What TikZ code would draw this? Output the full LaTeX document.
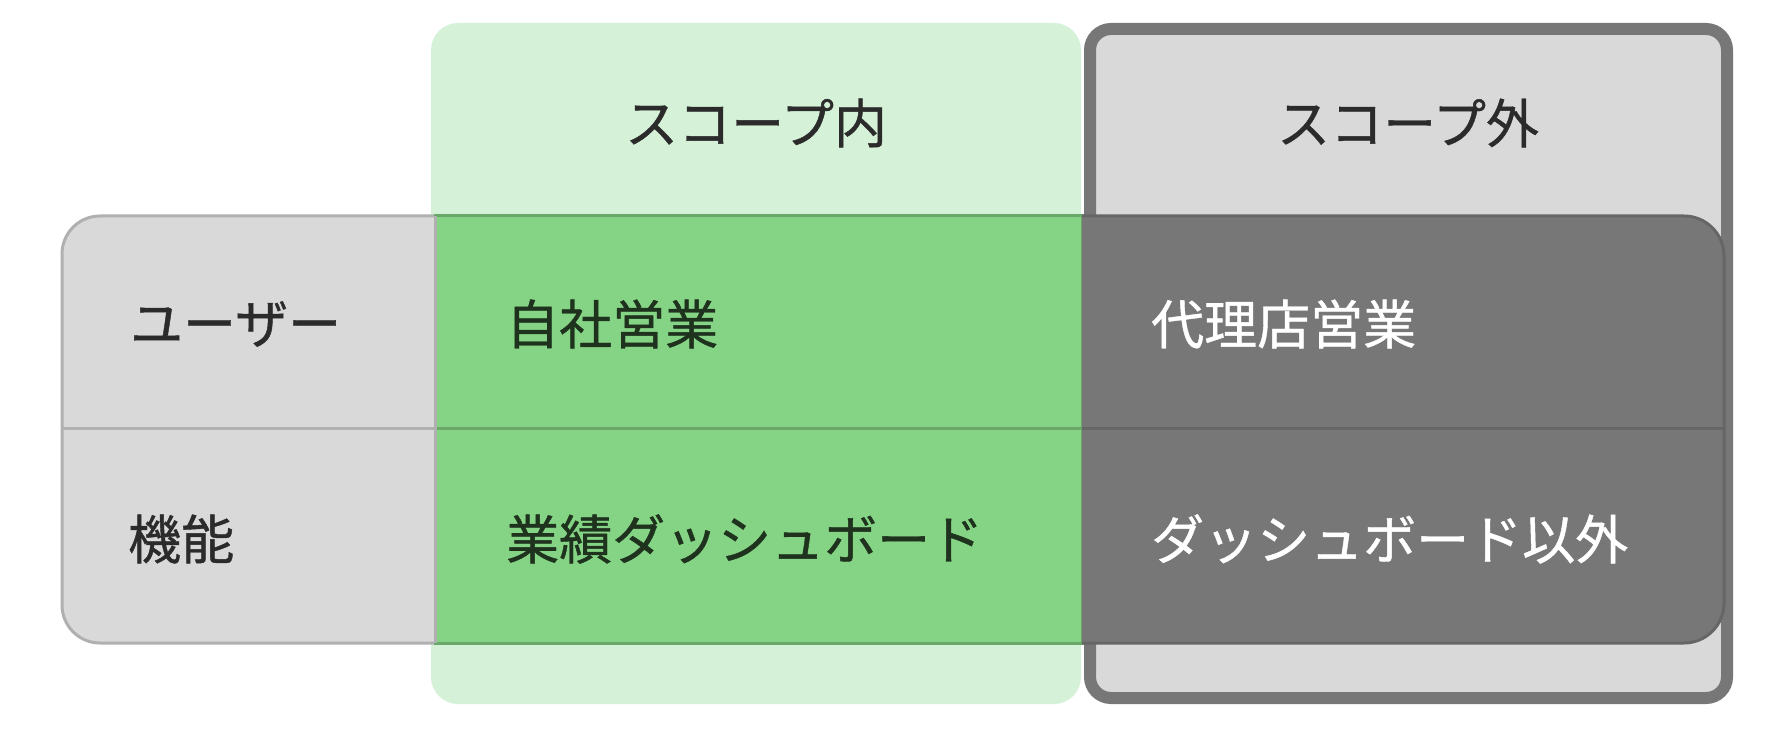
\documentclass[tikz,border=0pt]{standalone}
\usepackage{fontspec}
\newfontfamily\cjk{Noto Sans CJK JP}[UprightFeatures={FakeBold=0.8}]
\usepackage{tikz}
\usetikzlibrary{positioning}
\definecolor{scopein}{HTML}{D5F2D8}
\definecolor{cellgreen}{HTML}{85D485}
\definecolor{linegreen}{HTML}{6AA86A}
\definecolor{cellgray}{HTML}{D9D9D9}
\definecolor{linegray}{HTML}{B0B0B0}
\definecolor{celldark}{HTML}{777777}
\definecolor{linedark}{HTML}{666666}
\definecolor{textdark}{HTML}{2B2B2B}
\definecolor{textgreen}{HTML}{1E321E}
\tikzset{
	label text/.style={inner sep=0pt, font=\cjk\fontsize{53}{60}\selectfont},
	row text/.style={label text, anchor=west}
}

\begin{document}
\begin{tikzpicture}[x=1pt, y=-1pt]
			%%%%% START %%%%%
			\useasboundingbox[fill=white] (0, 0) rectangle (1780, 746);
			
			% columns behind the table
			\fill[scopein, rounded corners=27] (431, 23) rectangle (1081, 704);
			\draw[fill=cellgray, draw=celldark, line width=12pt, rounded corners=21] (1090, 29) rectangle (1727, 698);
			
			% left cell
			\begin{scope}
				\clip (0, 0) rectangle (435, 746);
				\draw[fill=cellgray, draw=linegray, line width=3pt, rounded corners=38] (62, 216) rectangle (500, 643);
			\end{scope}
			\draw[linegray, line width=3pt] (62, 428) -- (435, 428);
			
			% middle cell
			\draw[fill=cellgreen, draw=linegreen, line width=3pt] (435, 216) rectangle (1082, 643);
			\draw[linegreen, line width=3pt] (435, 428) -- (1082, 428);
			\draw[linegray, line width=3pt] (435, 216) -- (435, 643);
			
			% right cell
			\begin{scope}
				\clip (1082, 0) rectangle (1780, 746);
				\draw[fill=celldark, draw=linedark, line width=3pt, rounded corners=40] (1000, 216) rectangle (1724, 643);
			\end{scope}
			\draw[linedark, line width=3pt] (1082, 428) -- (1724, 428);
			
			% texts
			\node[label text, text=textdark] (inhead) at (756, 123) {スコープ内};
			\node[label text, text=textdark] (outhead) at (1408, 123) {スコープ外};
			
			\node[row text, text=textdark] (user) at (130, 324) {ユーザー};
			\node[row text, text=textdark] (func) at (128, 539) {機能};
			
			\node[row text, text=textgreen] (insales) at (506, 324) {自社営業};
			\node[row text, text=textgreen] (dash) at (506, 539) {業績ダッシュボード};
			
			\node[row text, text=white] (agency) at (1151, 324) {代理店営業};
			\node[row text, text=white] (nodash) at (1151, 539) {ダッシュボード以外};
			%%%%% END %%%%%
		\end{tikzpicture}
\end{document}
